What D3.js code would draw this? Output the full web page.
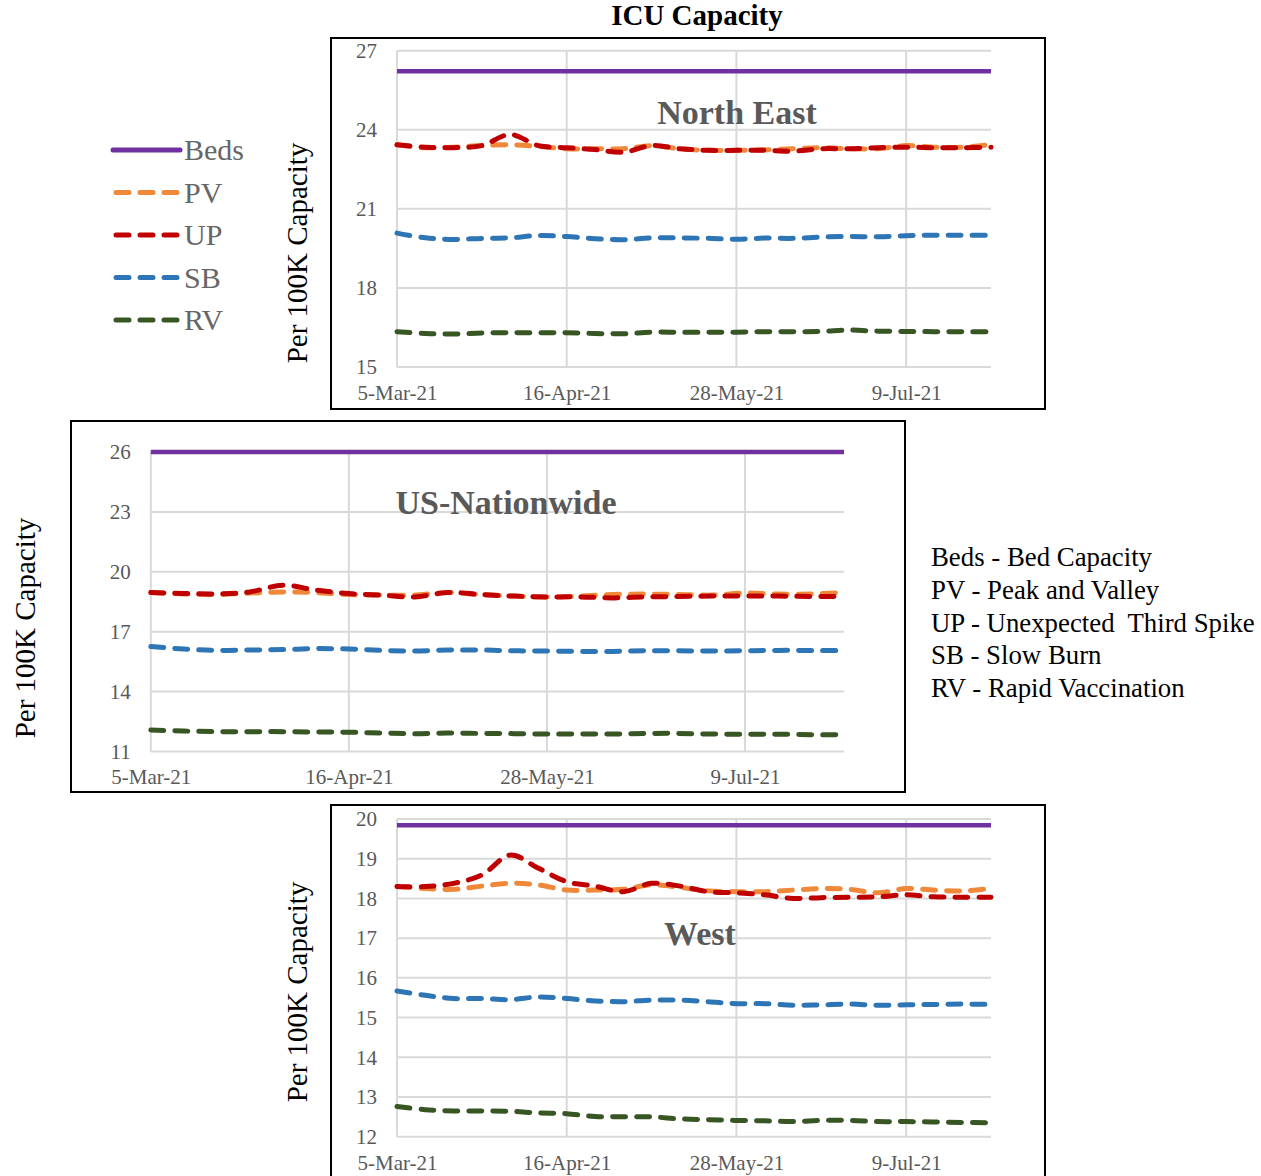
<html>
<head>
<meta charset="utf-8">
<script src="https://cdn.jsdelivr.net/npm/d3@7"></script>
<style>
  body { margin: 0; background: #fff; }
  text { font-family: "Liberation Serif", "Times New Roman", serif; }
</style>
</head>
<body>
<div id="chart"></div>
<script>

// weekly dates
let dates = ['2021-03-05','2021-03-12','2021-03-19','2021-03-26','2021-04-02','2021-04-09','2021-04-16',
  '2021-04-23','2021-04-30','2021-05-07','2021-05-14','2021-05-21','2021-05-28','2021-06-04',
  '2021-06-11','2021-06-18','2021-06-25','2021-07-02','2021-07-09','2021-07-16','2021-07-23','2021-07-30'];
let dateTicks = ['2021-03-05','2021-04-16','2021-05-28','2021-07-09'];

// North East
let neBeds = 26.22;
let nePV = [23.43,23.32,23.34,23.40,23.43,23.37,23.28,23.28,23.28,23.40,23.28,23.22,23.22,23.24,23.28,23.32,23.28,23.28,23.40,23.34,23.34,23.44];
let neUP = [23.43,23.34,23.32,23.40,23.82,23.40,23.32,23.25,23.15,23.40,23.28,23.22,23.22,23.22,23.19,23.28,23.28,23.32,23.34,23.32,23.32,23.34];
let neSB = [20.08,19.90,19.84,19.88,19.90,19.99,19.95,19.87,19.83,19.90,19.90,19.88,19.85,19.89,19.88,19.93,19.95,19.94,19.98,20.00,20.00,20.00];
let neRV = [16.34,16.27,16.25,16.29,16.30,16.30,16.30,16.27,16.26,16.32,16.32,16.32,16.32,16.34,16.34,16.35,16.40,16.36,16.35,16.34,16.34,16.34];
let neTicks = [15, 18, 21, 24, 27];

// US-Nationwide
let usBeds = 26.0;
let usPV = [18.96,18.89,18.86,18.93,18.99,18.96,18.86,18.83,18.83,18.96,18.86,18.78,18.74,18.78,18.86,18.88,18.86,18.83,18.93,18.88,18.89,18.96];
let usUP = [18.96,18.91,18.89,18.99,19.33,19.08,18.91,18.83,18.74,18.96,18.86,18.78,18.74,18.74,18.69,18.74,18.76,18.78,18.79,18.78,18.76,18.76];
let usSB = [16.25,16.13,16.06,16.08,16.10,16.15,16.13,16.06,16.03,16.08,16.08,16.04,16.03,16.01,16.01,16.04,16.04,16.03,16.04,16.06,16.06,16.06];
let usRV = [12.07,12.02,11.99,11.99,11.99,11.97,11.96,11.92,11.89,11.92,11.90,11.89,11.87,11.87,11.87,11.90,11.90,11.87,11.86,11.86,11.84,11.84];
let usTicks = [11, 14, 17, 20, 23, 26];

// West
let wBeds = 19.84;
let wPV = [18.30,18.25,18.23,18.31,18.38,18.34,18.21,18.21,18.23,18.34,18.28,18.19,18.17,18.17,18.21,18.25,18.23,18.14,18.25,18.21,18.19,18.25];
let wUP = [18.30,18.30,18.38,18.59,19.09,18.76,18.42,18.31,18.17,18.38,18.31,18.17,18.14,18.09,18.00,18.02,18.03,18.04,18.09,18.04,18.03,18.03];
let wSB = [15.67,15.56,15.48,15.48,15.45,15.52,15.48,15.42,15.40,15.44,15.44,15.40,15.35,15.35,15.31,15.32,15.34,15.31,15.32,15.33,15.34,15.33];
let wRV = [12.76,12.68,12.65,12.65,12.64,12.60,12.58,12.51,12.50,12.50,12.45,12.43,12.41,12.40,12.38,12.41,12.41,12.38,12.38,12.37,12.36,12.35];
let wTicks = [12, 13, 14, 15, 16, 17, 18, 19, 20];

let seriesNames = ['Beds', 'PV', 'UP', 'SB', 'RV'];
let seriesColors = {Beds: '#7030A0', PV: '#F0883A', UP: '#C00000', SB: '#2E75B6', RV: '#375623'};
let descriptions = ['Beds - Bed Capacity', 'PV - Peak and Valley', 'UP - Unexpected  Third Spike',
  'SB - Slow Burn', 'RV - Rapid Vaccination'];

let width = 1261;
let height = 1176;
let parseDate = d3.timeParse('%Y-%m-%d');
let fmtDate = d3.timeFormat('%-d-%b-%y');
let days = dates.map(parseDate);

let svg = d3.select('#chart')
    .append('svg')
    .attr('width', width)
    .attr('height', height);

svg.append('text')
    .attr('x', 697).attr('y', 25)
    .attr('text-anchor', 'middle')
    .attr('font-size', 29).attr('font-weight', 'bold')
    .text('ICU Capacity');

let panels = [
  {title: 'North East', box: [331, 38, 1045, 409], px: [397, 991], py: [367, 50.7], dom: [15, 27],
   ticks: neTicks, beds: neBeds, PV: nePV, UP: neUP, SB: neSB, RV: neRV, tpos: [737, 124], ylab: [297, 253]},
  {title: 'US-Nationwide', box: [71, 421, 905, 792], px: [150.8, 844], py: [751.4, 452], dom: [11, 26],
   ticks: usTicks, beds: usBeds, PV: usPV, UP: usUP, SB: usSB, RV: usRV, tpos: [506, 514], ylab: [25, 628]},
  {title: 'West', box: [331, 805, 1045, 1190], px: [397, 991], py: [1136.7, 819], dom: [12, 20],
   ticks: wTicks, beds: wBeds, PV: wPV, UP: wUP, SB: wSB, RV: wRV, tpos: [700, 945], ylab: [297, 992]}
];

panels.forEach(function(p) {
  let g = svg.append('g').attr('class', 'panel');

  g.append('rect')
      .attr('x', p.box[0]).attr('y', p.box[1])
      .attr('width', p.box[2] - p.box[0]).attr('height', p.box[3] - p.box[1])
      .attr('fill', 'none').attr('stroke', '#000').attr('stroke-width', 2);

  let x = d3.scaleTime().domain([days[0], days[days.length - 1]]).range(p.px);
  let y = d3.scaleLinear().domain(p.dom).range(p.py);

  // gridlines
  g.selectAll('.hgrid').data(p.ticks).enter().append('line')
      .attr('x1', p.px[0]).attr('x2', p.px[1])
      .attr('y1', d => y(d)).attr('y2', d => y(d))
      .attr('stroke', '#d9d9d9').attr('stroke-width', 2);
  g.selectAll('.vgrid').data(dateTicks).enter().append('line')
      .attr('x1', d => x(parseDate(d))).attr('x2', d => x(parseDate(d)))
      .attr('y1', y(p.dom[1])).attr('y2', y(p.dom[0]))
      .attr('stroke', '#d9d9d9').attr('stroke-width', 2);

  // axes (labels only)
  let yAxis = d3.axisLeft(y).tickValues(p.ticks).tickSize(0).tickPadding(20);
  let ya = g.append('g').attr('transform', 'translate(' + p.px[0] + ',0)').call(yAxis);
  let xAxis = d3.axisBottom(x).tickValues(dateTicks.map(parseDate)).tickFormat(fmtDate).tickSize(0).tickPadding(18);
  let xa = g.append('g').attr('transform', 'translate(0,' + y(p.dom[0]) + ')').call(xAxis);
  [ya, xa].forEach(function(a) {
    a.select('.domain').remove();
    a.selectAll('text').attr('font-family', '"Liberation Serif", serif')
        .attr('font-size', 21).attr('fill', '#595959');
  });

  // region title
  g.append('text')
      .attr('x', p.tpos[0]).attr('y', p.tpos[1])
      .attr('text-anchor', 'middle')
      .attr('font-size', 34).attr('font-weight', 'bold').attr('fill', '#595959')
      .text(p.title);

  // y label
  g.append('text')
      .attr('transform', 'translate(' + p.ylab[0] + ',' + p.ylab[1] + ') rotate(-90)')
      .attr('text-anchor', 'middle').attr('dominant-baseline', 'central')
      .attr('font-size', 29)
      .text('Per 100K Capacity');

  let line = d3.line()
      .x((d, i) => x(days[i]))
      .y(d => y(d))
      .curve(d3.curveCatmullRom.alpha(0.5));

  ['PV', 'UP', 'SB', 'RV'].forEach(function(s) {
    g.append('path')
        .datum(p[s])
        .attr('d', line)
        .attr('fill', 'none')
        .attr('stroke', seriesColors[s])
        .attr('stroke-width', 5)
        .attr('stroke-linecap', 'round')
        .attr('stroke-dasharray', '13,11');
  });

  g.append('line')
      .attr('x1', x(days[0])).attr('x2', x(days[days.length - 1]))
      .attr('y1', y(p.beds)).attr('y2', y(p.beds))
      .attr('stroke', seriesColors.Beds).attr('stroke-width', 4.5);
});

// legend
let legend = svg.append('g').attr('class', 'legend');
let legendY = d3.scalePoint().domain(seriesNames).range([150, 320]);
seriesNames.forEach(function(s) {
  legend.append('line')
      .attr('x1', s === 'Beds' ? 113 : 116).attr('x2', s === 'Beds' ? 180 : 177)
      .attr('y1', legendY(s)).attr('y2', legendY(s))
      .attr('stroke', seriesColors[s]).attr('stroke-width', 5)
      .attr('stroke-linecap', 'round')
      .attr('stroke-dasharray', s === 'Beds' ? null : '13,11');
  legend.append('text')
      .attr('x', 184).attr('y', legendY(s) + 10)
      .attr('font-size', 30).attr('fill', '#666')
      .text(s);
});

// description text
let desc = svg.append('g').attr('class', 'desc');
desc.selectAll('text').data(descriptions).enter().append('text')
    .attr('x', 931)
    .attr('y', (d, i) => 566 + i * 32.8)
    .attr('font-size', 26.8)
    .style('white-space', 'pre')
    .text(d => d);

</script>
</body>
</html>
